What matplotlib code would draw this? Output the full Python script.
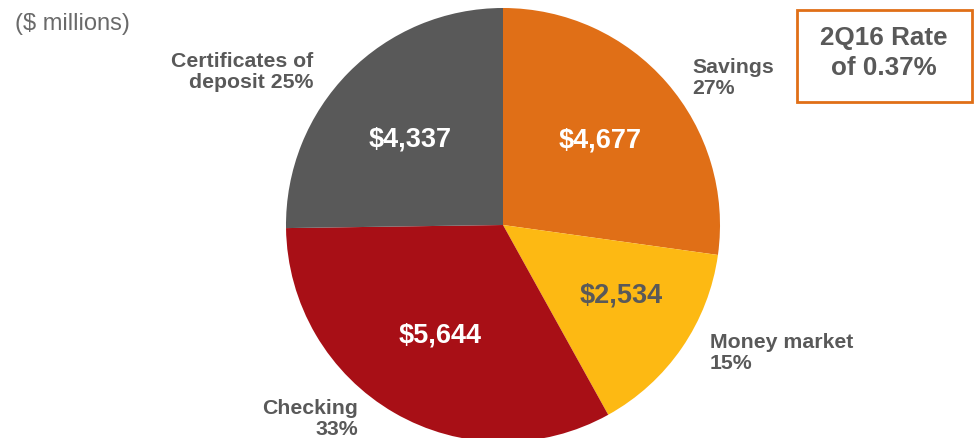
import matplotlib
matplotlib.use("Agg")
import matplotlib.pyplot as plt
from matplotlib.patches import Rectangle

categories = ["Savings", "Money market", "Checking", "Certificates of deposit"]
values = [4677, 2534, 5644, 4337]
value_labels = ["$4,677", "$2,534", "$5,644", "$4,337"]
pct_labels = ["Savings\n27%", "Money market\n15%", "Checking\n33%", "Certificates of\ndeposit 25%"]
colors = ["#E06F17", "#FDB913", "#A80F16", "#595959"]

plt.rcParams['font.family'] = ['Liberation Sans', 'DejaVu Sans']
W, H = 978, 439
fig = plt.figure(figsize=(W/100, H/100), dpi=100)
ax = fig.add_axes([0, 0, 1, 1])

# y axis is inverted (pixel coords), so startangle=-90 points to the top and
# counterclockwise in data space appears clockwise on screen
wedges, _ = ax.pie(values, colors=colors, startangle=-90, counterclock=True,
                   center=(503, 226), radius=217, frame=True,
                   wedgeprops=dict(linewidth=0))
ax.set_xlim(0, W)
ax.set_ylim(H, 0)
ax.set_aspect('equal')
ax.axis('off')

txt = "#595959"
vpos = [(600, 141), (621, 296), (440, 336), (410, 140)]
vcol = ["white", txt, "white", "white"]
for (x, y), s, c in zip(vpos, value_labels, vcol):
    ax.text(x, y, s, ha='center', va='center', fontsize=19.5, fontweight='bold', color=c)

fs = 15.3
ls = 1.18
ax.text(692, 78, pct_labels[0], ha='left', va='center', fontsize=fs, fontweight='bold', color=txt, linespacing=ls)
ax.text(710, 353, pct_labels[1], ha='left', va='center', fontsize=fs, fontweight='bold', color=txt, linespacing=ls)
ax.text(358, 419, pct_labels[2], ha='right', va='center', fontsize=fs, fontweight='bold', color=txt, linespacing=ls, multialignment='right')
ax.text(313, 72, pct_labels[3], ha='right', va='center', fontsize=fs, fontweight='bold', color=txt, linespacing=ls, multialignment='right')

ax.text(15, 24, "($ millions)", ha='left', va='center', fontsize=17, color="#6a6a6a")

ax.add_patch(Rectangle((797, 11), 175, 92, fill=False, edgecolor="#E06F17", linewidth=2))
ax.text(884, 53, "2Q16 Rate\nof 0.37%", ha='center', va='center', fontsize=18.7, fontweight='bold', color=txt, linespacing=1.3)

fig.savefig("out.png", dpi=100)
